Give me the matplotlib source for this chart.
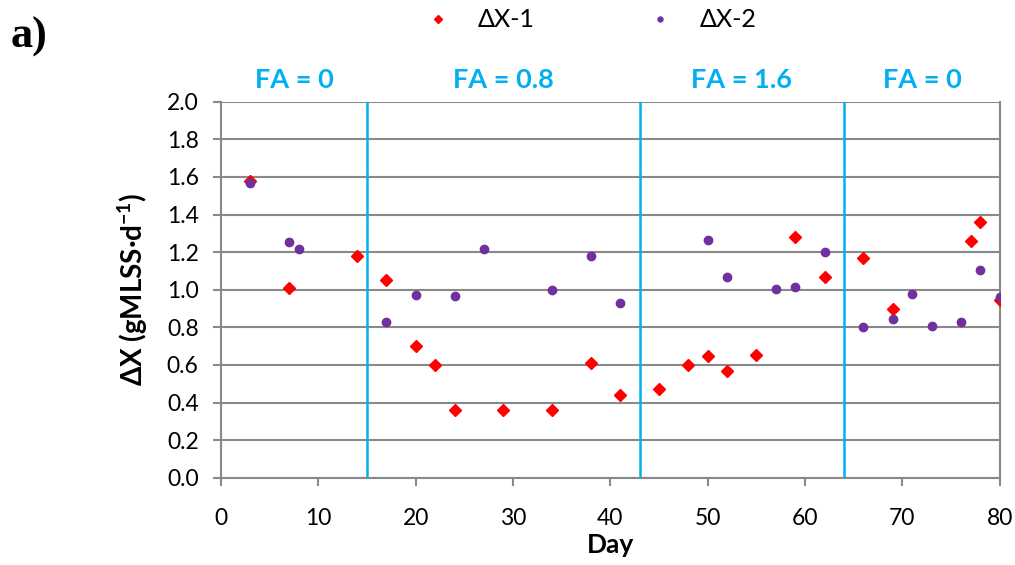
import matplotlib.pyplot as plt

plt.rcParams['font.family'] = ['Lato', 'DejaVu Sans']
plt.rcParams['mathtext.fontset'] = 'custom'
plt.rcParams['mathtext.bf'] = 'Lato:bold'
plt.rcParams['mathtext.default'] = 'bf'

# data
days_1 = [3, 7, 14, 17, 20, 22, 24, 29, 34, 38, 41, 45, 48, 50, 52, 55, 59, 62,
          66, 69, 77, 78, 80]
dx_1 = [1.58, 1.01, 1.18, 1.05, 0.70, 0.60, 0.36, 0.36, 0.36, 0.61, 0.44, 0.47,
        0.60, 0.645, 0.57, 0.655, 1.28, 1.07, 1.17, 0.90, 1.26, 1.36, 0.945]

days_2 = [3, 7, 8, 17, 20, 24, 27, 34, 38, 41, 50, 52, 57, 59, 62, 66, 69, 71,
          73, 76, 78, 80]
dx_2 = [1.567, 1.255, 1.215, 0.83, 0.972, 0.968, 1.218, 1.0, 1.18, 0.93, 1.265,
        1.068, 1.005, 1.012, 1.203, 0.803, 0.842, 0.978, 0.808, 0.83, 1.107, 0.962]

phase_bounds = [0, 15, 43, 64, 80]
phase_labels = ['FA = 0', 'FA = 0.8', 'FA = 1.6', 'FA = 0']

grey = '#898989'
blue = '#00B0F0'

fig = plt.figure(figsize=(10.15, 5.65), dpi=100)
ax = fig.add_axes([0.2177, 0.1545, 0.7673, 0.6655])

ax.set_xlim(0, 80)
ax.set_ylim(0, 2.0)
ax.set_xticks(range(0, 81, 10))
ax.set_yticks([i / 10 for i in range(0, 21, 2)])
ax.set_yticklabels([f'{i / 10:.1f}' for i in range(0, 21, 2)])

ax.grid(axis='y', color=grey, linewidth=1.5, zorder=0)
ax.set_axisbelow(True)
for side in ['left', 'bottom', 'right']:
    ax.spines[side].set_color(grey)
    ax.spines[side].set_linewidth(1.5)
ax.spines['top'].set_visible(False)
ax.tick_params(axis='both', colors=grey, length=6, width=1.5,
               labelcolor='black', labelsize=16.5)
ax.tick_params(axis='x', pad=16)
ax.tick_params(axis='y', pad=10)

# phase separators
for b in phase_bounds[1:-1]:
    ax.axvline(b, color=blue, linewidth=1.8, zorder=1)
for i, lab in enumerate(phase_labels):
    mid = (phase_bounds[i] + phase_bounds[i + 1]) / 2
    ax.text(mid, 2.115, lab, color=blue, fontsize=19.5, fontweight='bold',
            ha='center', va='center', clip_on=False)

ax.plot(days_1, dx_1, linestyle='none', marker='D', markersize=6.5,
        color='#FF0000', label='ΔX-1', zorder=3)
ax.plot(days_2, dx_2, linestyle='none', marker='o', markersize=6,
        color='#7030A0', label='ΔX-2', zorder=4)

ax.set_xlabel('Day', fontsize=19, fontweight='bold', labelpad=3)
ax.set_ylabel('ΔX (gMLSS·d$^{-1}$)', fontsize=20, fontweight='bold', labelpad=12)

fig.legend(loc='upper center', bbox_to_anchor=(0.576, 1.025), ncol=2,
           frameon=False, fontsize=18, markerscale=0.6, handletextpad=0.6,
           columnspacing=4.0)

fig.text(0.01, 0.935, 'a)', family='Liberation Serif', fontweight='bold',
         fontsize=32, ha='left', va='center')

fig.savefig('out.png', dpi=100)
